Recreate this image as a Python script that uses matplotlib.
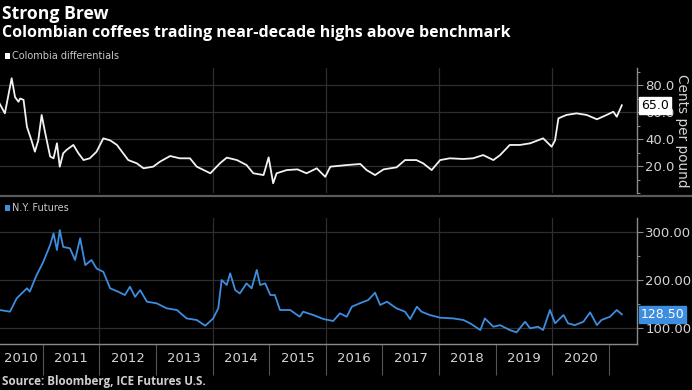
import matplotlib
matplotlib.use("Agg")
import matplotlib.pyplot as plt
import matplotlib.transforms as mtransforms
from matplotlib.lines import Line2D
from matplotlib.patches import Rectangle
from matplotlib.ticker import FixedLocator, MultipleLocator, FormatStrFormatter, NullFormatter

# ---------------- data ----------------
colombia_t = [2010.24, 2010.33, 2010.45, 2010.51, 2010.57, 2010.60, 2010.66, 2010.72, 2010.80,
              2010.86, 2010.92, 2010.98, 2011.04, 2011.13, 2011.19, 2011.25, 2011.30, 2011.36,
              2011.42, 2011.54, 2011.63, 2011.72, 2011.83, 2011.95, 2012.07, 2012.19, 2012.31,
              2012.42, 2012.51, 2012.66, 2012.78, 2012.95, 2013.07, 2013.25, 2013.42, 2013.60,
              2013.72, 2013.96, 2014.13, 2014.25, 2014.43, 2014.60, 2014.72, 2014.90, 2014.99,
              2015.07, 2015.13, 2015.31, 2015.50, 2015.66, 2015.84, 2015.99, 2016.08, 2016.37,
              2016.61, 2016.72, 2016.87, 2017.02, 2017.25, 2017.40, 2017.60, 2017.72, 2017.87,
              2018.02, 2018.19, 2018.43, 2018.60, 2018.78, 2018.96, 2019.08, 2019.25, 2019.43,
              2019.61, 2019.84, 2019.99, 2020.05, 2020.11, 2020.25, 2020.43, 2020.61, 2020.79,
              2020.96, 2021.08, 2021.14, 2021.23]
colombia_v = [66, 59, 85, 71, 67.6, 70, 69, 49, 39,
              30.6, 39, 57.8, 45, 27, 25.7, 36.8, 19.5, 29.4,
              31.9, 35.6, 29.4, 24.4, 25.7, 30.6, 40.5, 39, 35.6,
              29.4, 24.4, 22, 18.3, 19.5, 23.2, 27.4, 25.7, 25.7,
              19.5, 14.6, 22, 26.2, 24.4, 20.7, 14.6, 13.3, 26.4,
              7.2, 14.6, 17, 17.5, 14.6, 18.3, 12, 19.5, 20.7,
              21.5, 17, 13.3, 17.5, 19, 24.4, 24.4, 22, 17,
              24.4, 25.7, 25.2, 25.7, 28.1, 24.4, 28.1, 35.6, 35.6,
              36.8, 40.5, 34.3, 39, 55.3, 57.8, 59, 57.8, 54.6,
              57.8, 60.2, 56.5, 65.0]

futures_t = [2010.24, 2010.42, 2010.54, 2010.72, 2010.77, 2010.89, 2011.01, 2011.13, 2011.19,
             2011.25, 2011.30, 2011.36, 2011.48, 2011.57, 2011.66, 2011.75, 2011.86, 2011.95,
             2012.07, 2012.19, 2012.33, 2012.45, 2012.54, 2012.63, 2012.72, 2012.84, 2013.01,
             2013.19, 2013.37, 2013.54, 2013.72, 2013.87, 2014.01, 2014.10, 2014.16, 2014.25,
             2014.31, 2014.40, 2014.48, 2014.60, 2014.69, 2014.78, 2014.84, 2014.93, 2015.02,
             2015.10, 2015.19, 2015.37, 2015.54, 2015.60, 2015.78, 2015.96, 2016.13, 2016.25,
             2016.37, 2016.46, 2016.60, 2016.75, 2016.87, 2016.96, 2017.08, 2017.25, 2017.40,
             2017.49, 2017.61, 2017.69, 2017.84, 2018.02, 2018.25, 2018.43, 2018.55, 2018.73,
             2018.81, 2018.96, 2019.08, 2019.25, 2019.37, 2019.52, 2019.61, 2019.75, 2019.84,
             2019.96, 2020.05, 2020.20, 2020.28, 2020.40, 2020.55, 2020.67, 2020.79, 2020.87,
             2021.02, 2021.14, 2021.23]
futures_v = [137.5, 134, 162, 182.7, 175.7, 210, 238, 273, 297,
             262.5, 304, 269, 266, 241.7, 287, 231, 241.7, 224,
             217, 182.7, 175.7, 168.7, 186, 165, 179, 154.8, 151.5,
             141, 137.5, 120, 116.7, 104.8, 120, 141, 200, 189.6,
             214, 179, 172, 193, 182.7, 221, 189.6, 193, 168.7,
             168.7, 137.5, 137.5, 123.5, 134, 127, 118.7, 114.6, 130.6,
             123.5, 144.4, 151.5, 158.3, 173.6, 148, 154.8, 141, 134,
             118.7, 144.4, 134, 127, 121.5, 120, 116.7, 109.8, 95.8,
             120, 102.7, 106, 95.8, 91, 113, 99.4, 102.7, 95.8,
             137.5, 109.8, 127, 109.8, 106, 113, 132.6, 106, 116.7,
             123.5, 137.5, 128.5]

year_ticks = list(range(2011, 2022))
year_labels = ['2010', '2011', '2012', '2013', '2014', '2015', '2016', '2017', '2018', '2019', '2020']
year_label_pos = [2010.62, 2011.5, 2012.5, 2013.5, 2014.5, 2015.5, 2016.5, 2017.5, 2018.5, 2019.5, 2020.5]
grid_years = [2012, 2014, 2016, 2018, 2020]
colombia_ticks = [20, 40, 60, 80]
futures_ticks = [100, 200, 300]
colombia_last = 65.0
futures_last = 128.50

# ---------------- styling ----------------
plt.rcParams['font.family'] = ['Liberation Sans Narrow', 'DejaVu Sans']
W, H = 692, 390
BG = 'black'
GRID = '#2e2e2e'
AXC = '#8a8a8a'
TXT = '#d4d4d4'
BLUE = '#3d8de0'

fig = plt.figure(figsize=(W / 100, H / 100), dpi=100, facecolor=BG)


def fx(px):
    return px / W


def fy(py):
    return 1 - py / H


XL = (2010.244, 2021.498)
ax1 = fig.add_axes([0, fy(193), fx(637), (193 - 68) / H], facecolor=BG)
ax2 = fig.add_axes([0, fy(344), fx(637), (344 - 218) / H], facecolor=BG)

for ax in (ax1, ax2):
    ax.set_xlim(*XL)
    for s in ('top', 'left'):
        ax.spines[s].set_visible(False)
    ax.spines['right'].set_color(AXC)
    ax.spines['right'].set_linewidth(1.0)
    ax.yaxis.tick_right()
    ax.tick_params(axis='y', which='major', colors=AXC, labelcolor=TXT, labelsize=9.5,
                   length=4, width=0.8, pad=2)
    ax.tick_params(axis='y', which='minor', colors=AXC, length=2.5, width=0.8)
    for gy in grid_years:
        ax.axvline(gy, color=GRID, lw=0.9, zorder=0)

# top panel
ax1.set_ylim(0, 92.6)
ax1.yaxis.set_major_locator(FixedLocator(colombia_ticks))
ax1.yaxis.set_minor_locator(MultipleLocator(10))
ax1.yaxis.set_major_formatter(FormatStrFormatter('%.1f'))
ax1.spines['bottom'].set_visible(False)
ax1.set_xticks([])
for t in colombia_ticks:
    ax1.axhline(t, color=GRID, lw=0.9, zorder=0)
ax1.plot(colombia_t, colombia_v, color='#f2f2f2', lw=1.3, zorder=3)

tr1 = mtransforms.blended_transform_factory(ax1.transAxes, ax1.transData)
ax1.text(1.006, colombia_last, f'{colombia_last:.1f}', transform=tr1, ha='left', va='center',
         fontsize=9, color='black', zorder=10,
         bbox=dict(boxstyle='square,pad=0.15', fc='white', ec='white'))

# bottom panel
ax2.set_ylim(66.7, 329.2)
ax2.yaxis.set_major_locator(FixedLocator(futures_ticks))
ax2.yaxis.set_minor_locator(MultipleLocator(50))
ax2.yaxis.set_major_formatter(FormatStrFormatter('%.2f'))
ax2.spines['bottom'].set_color(AXC)
ax2.spines['bottom'].set_linewidth(1.0)
for t in futures_ticks:
    ax2.axhline(t, color=GRID, lw=0.9, zorder=0)
ax2.plot(futures_t, futures_v, color=BLUE, lw=1.3, zorder=3)

tr2 = mtransforms.blended_transform_factory(ax2.transAxes, ax2.transData)
ax2.text(1.006, futures_last, f'{futures_last:.2f}', transform=tr2, ha='left', va='center',
         fontsize=9, color='white', zorder=10,
         bbox=dict(boxstyle='square,pad=0.15', fc=BLUE, ec=BLUE))

ax2.xaxis.set_major_locator(FixedLocator(year_ticks))
ax2.xaxis.set_major_formatter(NullFormatter())
ax2.xaxis.set_minor_locator(FixedLocator(year_label_pos))
ax2.xaxis.set_minor_formatter(plt.FixedFormatter(year_labels))
ax2.tick_params(axis='x', which='major', colors='#555555', length=22, width=0.8)
ax2.tick_params(axis='x', which='minor', length=0, labelcolor=TXT, labelsize=9.5, pad=6)

# separator between panels
fig.add_artist(Line2D([0, 1], [fy(195.5), fy(195.5)], color='#5a5a5a', lw=1.6,
                      transform=fig.transFigure))

# titles and labels
fig.text(fx(2), fy(14), 'Strong Brew', fontsize=12.7, fontweight='bold', color='white',
         ha='left', va='center', family=['Open Sans', 'DejaVu Sans'])
fig.text(fx(2), fy(33), 'Colombian coffees trading near-decade highs above benchmark',
         fontsize=11.5, fontweight='bold', color='white', ha='left', va='center',
         family=['Open Sans', 'DejaVu Sans'])

fig.add_artist(Rectangle((fx(5), fy(59)), fx(5), 6 / H, transform=fig.transFigure,
                         fc='white', ec='none'))
fig.text(fx(12), fy(56), 'Colombia differentials', fontsize=7, color='#c8c8c8',
         ha='left', va='center')
fig.add_artist(Rectangle((fx(5), fy(211)), fx(5), 6 / H, transform=fig.transFigure,
                         fc=BLUE, ec='none'))
fig.text(fx(12), fy(208), 'N.Y. Futures', fontsize=7, color='#c8c8c8',
         ha='left', va='center')

fig.text(fx(682), fy(131), 'Cents per pound', rotation=270, fontsize=9.8, color=TXT,
         ha='center', va='center')

fig.text(fx(2), fy(382), 'Source: Bloomberg, ICE Futures U.S.', fontsize=8.4,
         fontweight='bold', color='#d0d0d0', ha='left', va='center',
         family=['Open Sans', 'DejaVu Sans'])

fig.savefig('out.png', dpi=100, facecolor=BG)
